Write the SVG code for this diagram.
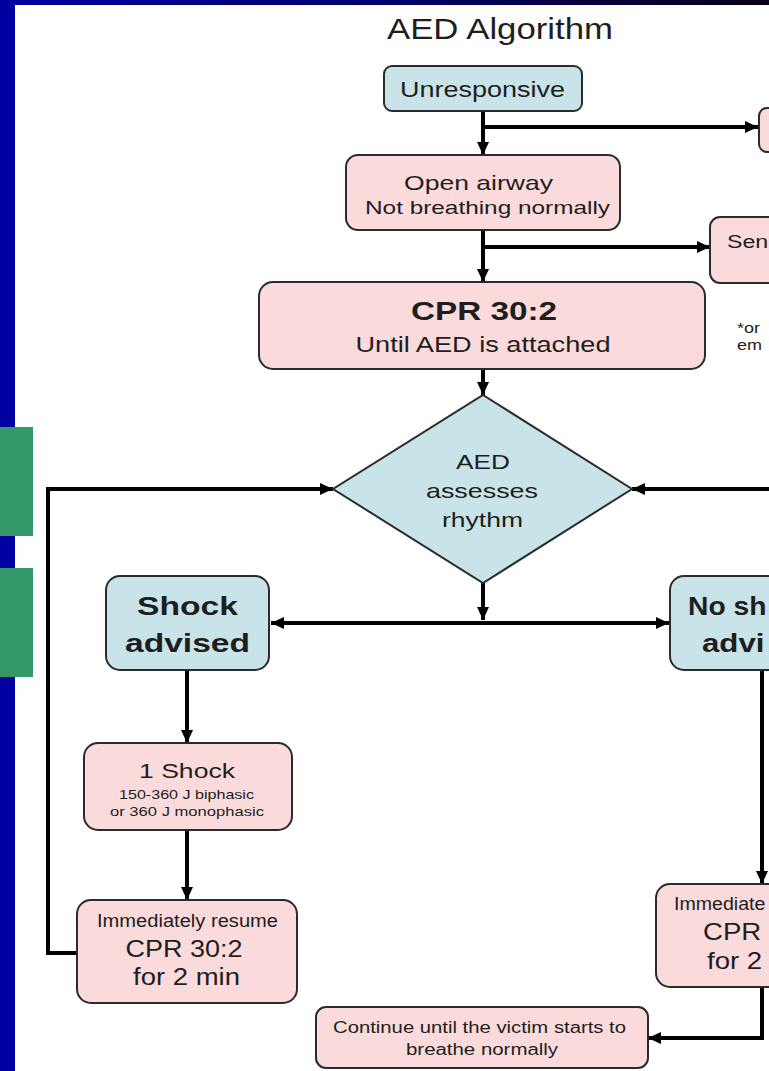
<svg xmlns="http://www.w3.org/2000/svg" width="769" height="1071" viewBox="0 0 769 1071">
<defs>
<linearGradient id="topg" x1="0" y1="0" x2="1" y2="0">
<stop offset="0" stop-color="#0000a0"/>
<stop offset="0.5" stop-color="#00006a"/>
<stop offset="1" stop-color="#0a0018"/>
</linearGradient>
<marker id="ah" markerUnits="userSpaceOnUse" markerWidth="14" markerHeight="14" refX="13" refY="7" orient="auto-start-reverse" viewBox="0 0 14 14">
<path d="M0,1 L13,7 L0,13 z" fill="#000"/>
</marker>
<style>
.pk{fill:#fadadb;stroke:#2b2b2b;stroke-width:2}
.bl{fill:#c8e4e8;stroke:#2b2b2b;stroke-width:2}
.t{font-family:"Liberation Sans",Arial,Helvetica,sans-serif;fill:#1e1e1e;text-anchor:middle}
.ts{font-family:"Liberation Sans",Arial,Helvetica,sans-serif;fill:#1e1e1e}
.b{font-weight:bold}
.c{fill:none;stroke:#000;stroke-width:4}
</style>
</defs>
<rect x="0" y="0" width="769" height="1071" fill="#ffffff"/>
<rect x="0" y="0" width="15" height="1071" fill="#0000a0"/>
<rect x="0" y="0" width="769" height="5" fill="url(#topg)"/>
<rect x="0" y="427" width="33" height="109" fill="#33996a"/>
<rect x="0" y="568" width="33" height="109" fill="#33996a"/>

<text class="t" x="500" y="39" font-size="29" textLength="226" lengthAdjust="spacingAndGlyphs">AED Algorithm</text>

<g id="connectors">
<path class="c" d="M483,111 V155" marker-end="url(#ah)"/>
<path class="c" d="M483,127 H758" marker-end="url(#ah)"/>
<path class="c" d="M483,230 V282" marker-end="url(#ah)"/>
<path class="c" d="M483,247 H710" marker-end="url(#ah)"/>
<path class="c" d="M483,369 V395" marker-end="url(#ah)"/>
<path class="c" d="M483,583 V620" marker-end="url(#ah)"/>
<path class="c" d="M271,623 H669" marker-start="url(#ah)" marker-end="url(#ah)"/>
<path class="c" d="M77,953 H48 V489 H333" marker-end="url(#ah)"/>
<path class="c" d="M775,489 H632" marker-end="url(#ah)"/>
<path class="c" d="M187,670 V743" marker-end="url(#ah)"/>
<path class="c" d="M187,830 V900" marker-end="url(#ah)"/>
<path class="c" d="M762,670 V884" marker-end="url(#ah)"/>
<path class="c" d="M762,987 V1038 H648" marker-end="url(#ah)"/>
</g>

<g id="unresponsive">
<rect class="bl" x="384" y="66" width="198" height="45" rx="8"/>
<text class="t" x="482.5" y="97" font-size="22" textLength="165" lengthAdjust="spacingAndGlyphs">Unresponsive</text>
</g>

<g id="call-box">
<rect class="pk" x="759" y="108" width="40" height="44" rx="8"/>
</g>

<g id="open-airway">
<rect class="pk" x="346" y="155" width="274" height="75" rx="12"/>
<text class="t" x="478.5" y="190" font-size="21" textLength="149" lengthAdjust="spacingAndGlyphs">Open airway</text>
<text class="t" x="487.5" y="214" font-size="19" textLength="245" lengthAdjust="spacingAndGlyphs">Not breathing normally</text>
</g>

<g id="send-box">
<rect class="pk" x="710" y="217" width="80" height="66" rx="10"/>
<text class="ts" transform="translate(727,248) scale(1.22,1)" font-size="19">Sen</text>
</g>

<g id="note">
<text class="ts" transform="translate(737,333) scale(1.2,1)" font-size="15">*or</text>
<text class="ts" transform="translate(737,350) scale(1.2,1)" font-size="15">em</text>
</g>

<g id="cpr">
<rect class="pk" x="259" y="282" width="446" height="87" rx="14"/>
<text class="t b" x="484" y="320" font-size="25" textLength="146" lengthAdjust="spacingAndGlyphs">CPR 30:2</text>
<text class="t" x="483" y="352" font-size="22" textLength="255" lengthAdjust="spacingAndGlyphs">Until AED is attached</text>
</g>

<g id="aed-assesses">
<polygon class="bl" points="483,395 632,489 483,583 333,489"/>
<text class="t" x="483" y="469" font-size="21" textLength="54" lengthAdjust="spacingAndGlyphs">AED</text>
<text class="t" x="482" y="498" font-size="21" textLength="112" lengthAdjust="spacingAndGlyphs">assesses</text>
<text class="t" x="482.5" y="527" font-size="21" textLength="81" lengthAdjust="spacingAndGlyphs">rhythm</text>
</g>

<g id="shock-advised">
<rect class="bl" x="106" y="576" width="163" height="94" rx="14"/>
<text class="t b" x="187.5" y="615" font-size="25" textLength="101" lengthAdjust="spacingAndGlyphs">Shock</text>
<text class="t b" x="187.5" y="652" font-size="25" textLength="125" lengthAdjust="spacingAndGlyphs">advised</text>
</g>

<g id="no-shock">
<rect class="bl" x="670" y="576" width="190" height="94" rx="14"/>
<text class="ts b" transform="translate(688,615) scale(1.13,1)" font-size="25">No sh</text>
<text class="ts b" transform="translate(702,652) scale(1.25,1)" font-size="25">advi</text>
</g>

<g id="one-shock">
<rect class="pk" x="84" y="743" width="208" height="87" rx="14"/>
<text class="t" x="187" y="778" font-size="21" textLength="96" lengthAdjust="spacingAndGlyphs">1 Shock</text>
<text class="t" x="186.5" y="799" font-size="13" textLength="135" lengthAdjust="spacingAndGlyphs">150-360 J biphasic</text>
<text class="t" x="187" y="816" font-size="13" textLength="154" lengthAdjust="spacingAndGlyphs">or 360 J monophasic</text>
</g>

<g id="resume-left">
<rect class="pk" x="77" y="900" width="220" height="103" rx="14"/>
<text class="t" x="187.5" y="927" font-size="17.5" textLength="181" lengthAdjust="spacingAndGlyphs">Immediately resume</text>
<text class="t" x="184" y="957" font-size="23" textLength="117" lengthAdjust="spacingAndGlyphs">CPR 30:2</text>
<text class="t" x="186.5" y="985" font-size="23" textLength="107" lengthAdjust="spacingAndGlyphs">for 2 min</text>
</g>

<g id="resume-right">
<rect class="pk" x="656" y="884" width="214" height="103" rx="14"/>
<text class="ts" transform="translate(674,910) scale(1.12,1)" font-size="17.5">Immediate</text>
<text class="ts" transform="translate(703,940) scale(1.2,1)" font-size="23">CPR</text>
<text class="ts" transform="translate(707,969) scale(1.2,1)" font-size="23">for 2</text>
</g>

<g id="continue">
<rect class="pk" x="316" y="1007" width="332" height="61" rx="10"/>
<text class="t" x="479.5" y="1033" font-size="16" textLength="293" lengthAdjust="spacingAndGlyphs">Continue until the victim starts to</text>
<text class="t" x="482" y="1055" font-size="16" textLength="152" lengthAdjust="spacingAndGlyphs">breathe normally</text>
</g>
</svg>
